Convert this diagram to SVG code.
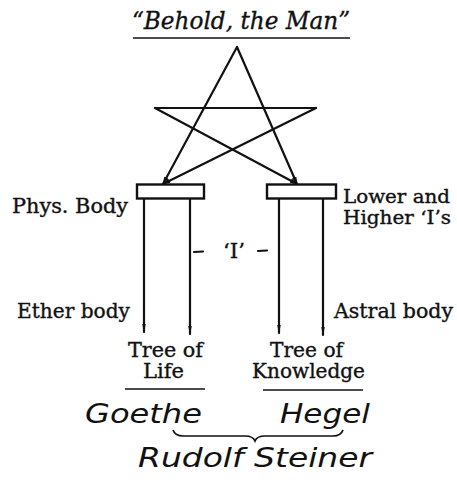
<svg xmlns="http://www.w3.org/2000/svg" width="457" height="480" viewBox="0 0 457 480">
<style>
.lbl{font-family:"DejaVu Serif","Liberation Serif",serif;font-size:19.5px;fill:#111;stroke:#111;stroke-width:0.35}
.sm{font-size:18px}
.ttl{font-family:"DejaVu Serif","Liberation Serif",serif;font-style:italic;font-size:24px;fill:#111;stroke:#111;stroke-width:0.35}
.hand{font-family:"DejaVu Sans","Liberation Sans",sans-serif;font-style:italic;font-size:26px;fill:#111}
.ln{stroke:#111;stroke-width:2.2;fill:none;stroke-linecap:round}
.thin{stroke:#111;stroke-width:1.7;fill:none}
</style>
<defs>
<marker id="ah" viewBox="0 0 10 6" refX="9" refY="3" markerWidth="3.6" markerHeight="2.2" orient="auto" markerUnits="strokeWidth">
<path d="M0,0 L10,3 L0,6 Z" fill="#111"/>
</marker>
<marker id="ap" viewBox="0 0 10 4" refX="9" refY="2" markerWidth="4" markerHeight="1.6" orient="auto" markerUnits="strokeWidth">
<path d="M0,0 L10,2 L0,4 Z" fill="#111"/>
</marker>
</defs>
<rect width="457" height="480" fill="#fff"/>
<g id="title">
<text class="ttl" x="132" y="29" textLength="218" lengthAdjust="spacingAndGlyphs">“Behold, the Man”</text>
<line class="thin" x1="133" y1="38" x2="350" y2="38"/>
</g>
<g id="connectors">
<line class="ln" x1="237" y1="47" x2="163" y2="184" marker-end="url(#ah)"/>
<line class="ln" x1="237" y1="47" x2="297" y2="184" marker-end="url(#ah)"/>
<line class="ln" x1="155" y1="108" x2="316" y2="108"/>
<line class="ln" x1="155" y1="108" x2="297" y2="184" marker-end="url(#ah)"/>
<line class="ln" x1="316" y1="108" x2="163" y2="184" marker-end="url(#ah)"/>
<line class="ln" x1="144" y1="199" x2="144" y2="332" marker-end="url(#ap)"/>
<line class="ln" x1="190" y1="199" x2="190" y2="334" marker-end="url(#ap)"/>
<line class="ln" x1="279" y1="199" x2="279" y2="333" marker-end="url(#ap)"/>
<line class="ln" x1="323" y1="199" x2="323" y2="335" marker-end="url(#ap)"/>
</g>
<g id="left-cap"><rect x="137" y="184.5" width="67" height="14" fill="#fff" stroke="#111" stroke-width="2.4"/></g>
<g id="right-cap"><rect x="267" y="184.5" width="69" height="14" fill="#fff" stroke="#111" stroke-width="2.4"/></g>
<g id="phys"><text class="lbl" x="12" y="213" textLength="116" lengthAdjust="spacingAndGlyphs">Phys. Body</text></g>
<g id="lower"><text class="lbl sm" x="343" y="203" textLength="107" lengthAdjust="spacingAndGlyphs">Lower and</text>
<text class="lbl sm" x="343" y="224" textLength="108" lengthAdjust="spacingAndGlyphs">Higher ‘I’s</text></g>
<g id="ego">
<line class="ln" x1="194" y1="252" x2="203" y2="251.5"/>
<text class="lbl" x="223" y="258" textLength="22" lengthAdjust="spacingAndGlyphs">‘I’</text>
<line class="ln" x1="258" y1="251" x2="267" y2="250.5"/>
</g>
<g id="ether"><text class="lbl" x="17" y="318" textLength="113" lengthAdjust="spacingAndGlyphs">Ether body</text></g>
<g id="astral"><text class="lbl" x="334" y="318" textLength="119" lengthAdjust="spacingAndGlyphs">Astral body</text></g>
<g id="tree-life">
<text class="lbl" x="128" y="357" textLength="75" lengthAdjust="spacingAndGlyphs">Tree of</text>
<text class="lbl" x="143" y="378" textLength="41" lengthAdjust="spacingAndGlyphs">Life</text>
<line class="thin" x1="125" y1="389" x2="205" y2="389"/>
</g>
<g id="tree-knowledge">
<text class="lbl" x="270" y="357" textLength="73" lengthAdjust="spacingAndGlyphs">Tree of</text>
<text class="lbl" x="252" y="378" textLength="113" lengthAdjust="spacingAndGlyphs">Knowledge</text>
<line class="thin" x1="263" y1="390" x2="363" y2="390"/>
</g>
<g id="goethe"><text class="hand" x="85" y="423" textLength="117" lengthAdjust="spacingAndGlyphs">Goethe</text></g>
<g id="hegel"><text class="hand" x="280" y="423" textLength="90" lengthAdjust="spacingAndGlyphs">Hegel</text></g>
<g id="brace"><path class="thin" d="M173,430 Q175,436 183,436 L245,436 Q253,436 255,441 Q257,436 265,436 L333,436 Q341,436 343,430"/></g>
<g id="steiner"><text class="hand" x="138" y="467" textLength="234" lengthAdjust="spacingAndGlyphs">Rudolf Steiner</text></g>
</svg>
